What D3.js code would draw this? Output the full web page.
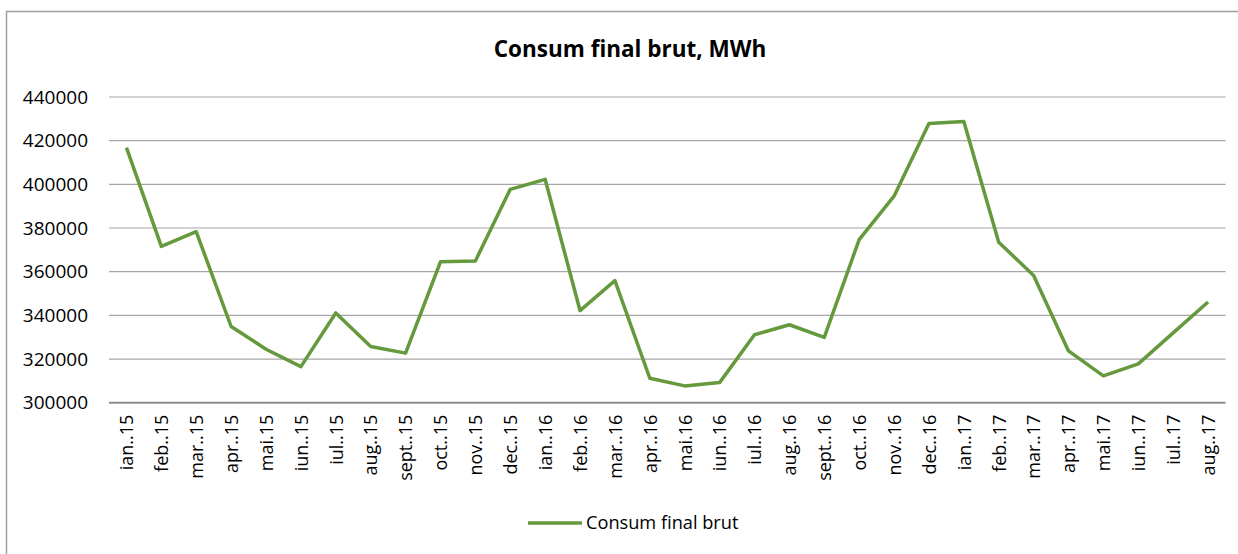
<!DOCTYPE html>
<html lang="ro">
<head>
<meta charset="UTF-8">
<title>Consum final brut, MWh</title>
<script src="https://d3js.org/d3.v7.min.js"></script>
<style>
  body { margin: 0; padding: 0; background: #fff; }
  svg { display: block; font-family: "Open Sans", Lato, sans-serif; }
</style>
</head>
<body>
<svg id="chart" width="1238" height="554"></svg>
<script>
  const months = ["ian..15","feb..15","mar..15","apr..15","mai.15","iun..15","iul..15","aug..15","sept..15","oct..15","nov..15","dec..15",
                  "ian..16","feb..16","mar..16","apr..16","mai.16","iun..16","iul..16","aug..16","sept..16","oct..16","nov..16","dec..16",
                  "ian..17","feb..17","mar..17","apr..17","mai.17","iun..17","iul..17","aug..17"];
  const consum = [416800, 371600, 378300, 334900, 324500, 316500, 341100, 325700, 322700, 364500, 364900, 397700,
                  402300, 342200, 355900, 311200, 307700, 309200, 331100, 335700, 329900, 374700, 394600, 427900,
                  428800, 373500, 358300, 323700, 312300, 317800, 332000, 346100];
  const yTicks = [300000, 320000, 340000, 360000, 380000, 400000, 420000, 440000];
  const seriesName = "Consum final brut";
  const title = "Consum final brut, MWh";

  const svg = d3.select("#chart");
  const plotLeft = 109, plotRight = 1225.5, plotTop = 97, plotBottom = 402.7;
  const green = "#65993d";
  const font = "'Open Sans', Lato, sans-serif";

  // frame (only left/top edges are visible in the picture)
  svg.append("rect")
    .attr("x", 6.5).attr("y", 11.5).attr("width", 1400).attr("height", 700)
    .attr("fill", "none").attr("stroke", "#a0a0a0").attr("stroke-width", 1.5);

  const x = d3.scalePoint().domain(months).range([plotLeft, plotRight]).padding(0.5);
  const y = d3.scaleLinear().domain([300000, 440000]).range([plotBottom, plotTop]);

  // grid
  svg.append("g").selectAll("line").data(yTicks.slice(1)).join("line")
    .attr("x1", plotLeft).attr("x2", plotRight)
    .attr("y1", d => y(d)).attr("y2", d => y(d))
    .attr("stroke", "#a6a6a6").attr("stroke-width", 1.2);

  // y axis labels
  const yAxis = d3.axisLeft(y).tickValues(yTicks).tickSize(0).tickPadding(21).tickFormat(d3.format("d"));
  svg.append("g").attr("transform", `translate(${plotLeft},0)`).call(yAxis)
    .call(g => g.select(".domain").remove())
    .selectAll("text").attr("font-size", 19).attr("fill", "#000")
    .attr("font-family", font);

  // x axis
  const xAxis = d3.axisBottom(x).tickSize(0).tickPadding(0);
  const gx = svg.append("g").attr("transform", `translate(0,${plotBottom})`).call(xAxis);
  gx.select(".domain").attr("d", `M${plotLeft},0H${plotRight}`).attr("stroke", "#8c8c8c").attr("stroke-width", 2);
  gx.selectAll("text")
    .attr("font-size", 18).attr("fill", "#000")
    .attr("font-family", font)
    .attr("text-anchor", "end")
    .attr("dy", "0.35em")
    .attr("transform", "translate(0,12) rotate(-90)")
    .attr("x", 0).attr("y", 0);

  // series
  const line = d3.line().x((d, i) => x(months[i])).y(d => y(d));
  svg.append("path").datum(consum)
    .attr("d", line)
    .attr("fill", "none").attr("stroke", green).attr("stroke-width", 3.5)
    .attr("stroke-linejoin", "round");

  // title
  svg.append("text")
    .attr("x", 630).attr("y", 57).attr("text-anchor", "middle")
    .attr("font-size", 22.5).attr("font-weight", "bold").attr("fill", "#000")
    .attr("font-family", font)
    .text(title);

  // legend
  const lg = svg.append("g").attr("transform", "translate(528,523)");
  lg.append("line").attr("x1", 0).attr("x2", 54).attr("y1", 0).attr("y2", 0)
    .attr("stroke", green).attr("stroke-width", 3.5);
  lg.append("text").attr("x", 58).attr("y", 0).attr("dy", "0.35em")
    .attr("font-size", 18.2).attr("fill", "#000").attr("font-family", font).text(seriesName);
</script>
</body>
</html>
